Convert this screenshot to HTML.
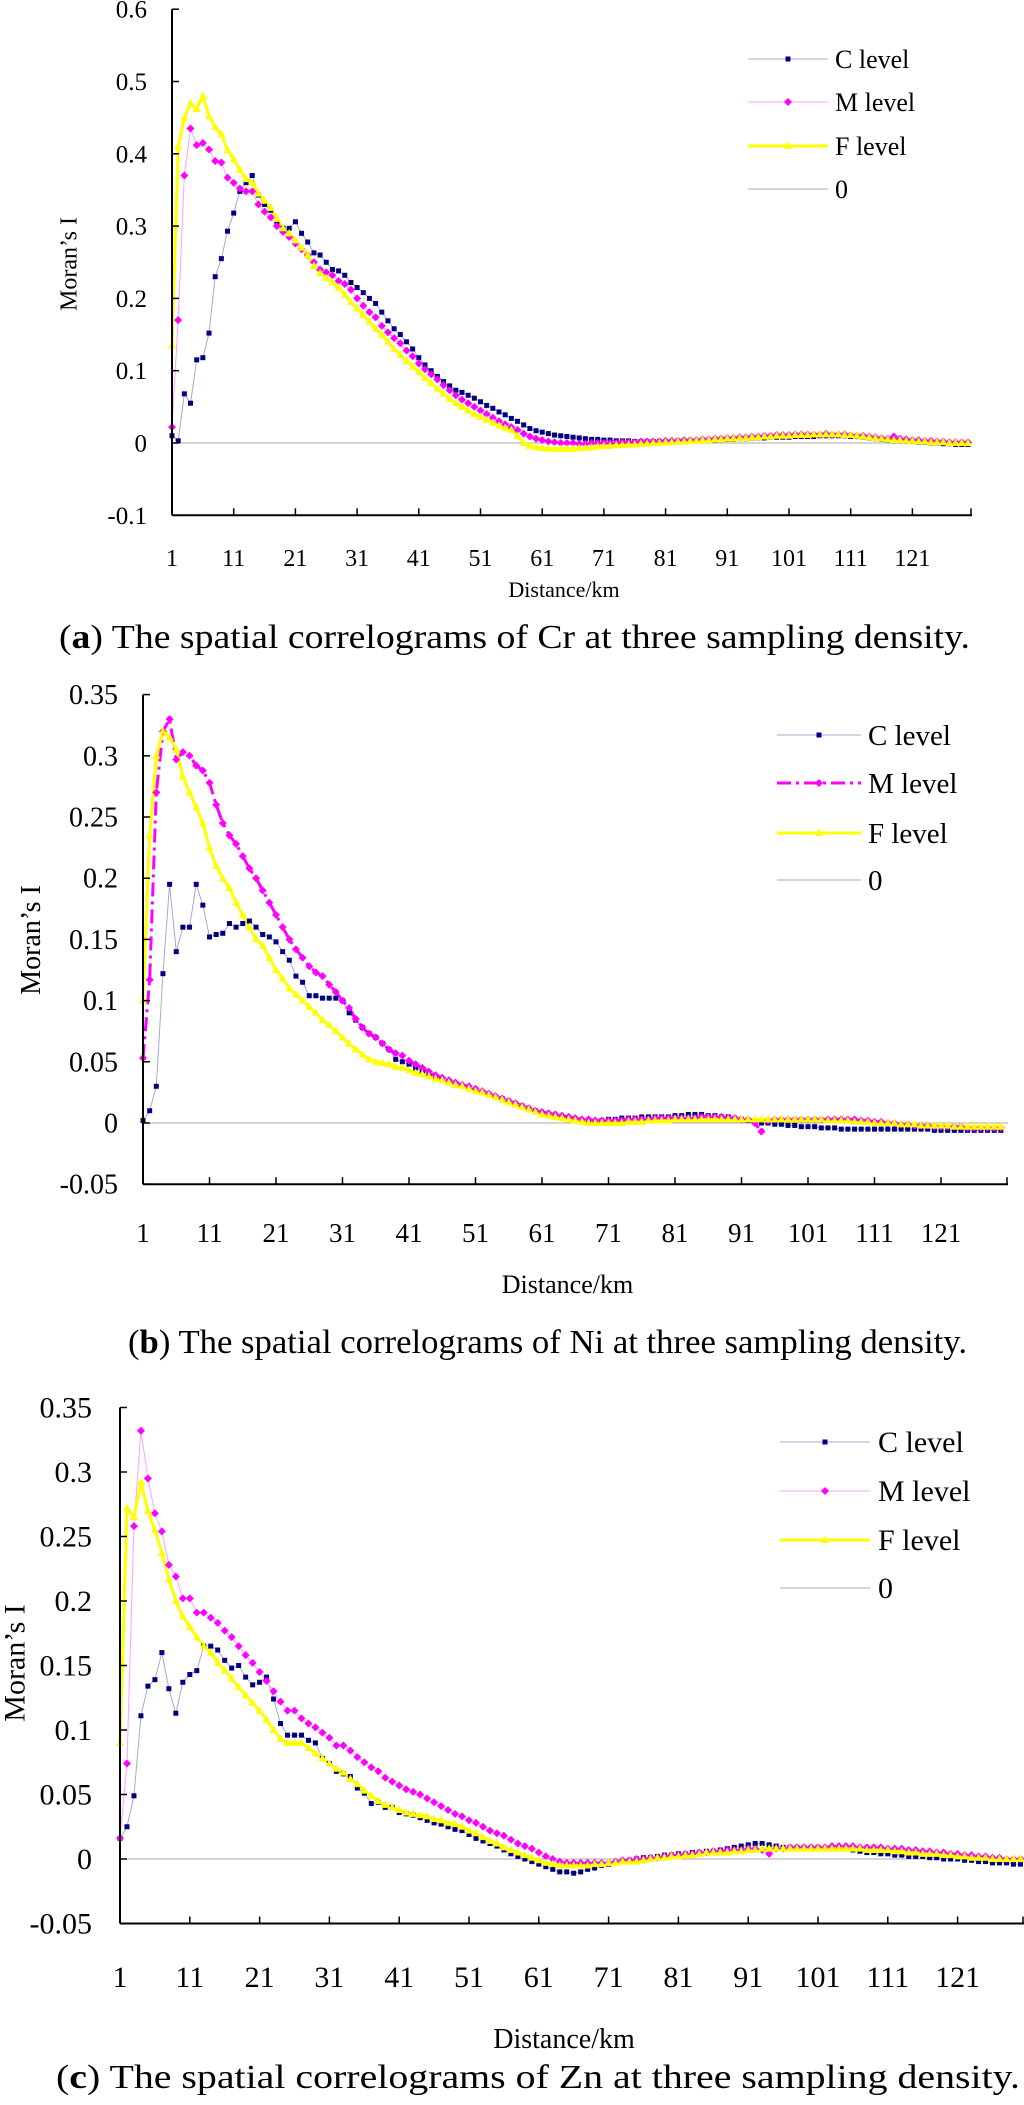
<!DOCTYPE html>
<html><head><meta charset="utf-8"><style>
html,body{margin:0;padding:0;background:#fff;}
svg{display:block;font-family:"Liberation Serif",serif;}
</style></head><body>
<svg id="fig" width="1024" height="2105" viewBox="0 0 1024 2105" xmlns="http://www.w3.org/2000/svg"></svg>
<script>
const km = [];
for (let k = 1; k <= 130; k++) km.push(k);
const xTickLabels = ["1","11","21","31","41","51","61","71","81","91","101","111","121"];
const seriesNames = ["C level","M level","F level","0"];

const crC = [.010,.003,.068,.055,.115,.118,.152,.230,.255,.293,.318,.348,.360,.370,.343,.330,.322,.303,.297,.297,.306,.290,.278,.263,.260,.250,.240,.238,.232,.222,.215,.208,.200,.193,.181,.169,.158,.150,.140,.130,.118,.108,.100,.092,.085,.079,.073,.070,.066,.062,.057,.052,.048,.043,.039,.034,.030,.025,.020,.017,.015,.013,.011,.010,.009,.008,.007,.006,.005,.005,.004,.004,.003,.003,.003,.002,.002,.002,.002,.002,.002,.002,.003,.003,.003,.003,.004,.004,.004,.005,.005,.005,.006,.006,.007,.007,.007,.008,.008,.008,.008,.009,.009,.009,.009,.010,.010,.010,.010,.010,.009,.009,.008,.007,.006,.005,.004,.003,.003,.002,.002,.001,.001,.000,.000,-.001,-.001,-.002,-.002,-.002];
const crM = [.022,.170,.370,.435,.412,.415,.406,.390,.388,.367,.360,.352,.348,.348,.330,.320,.312,.300,.292,.285,.276,.268,.260,.250,.240,.236,.232,.224,.220,.212,.200,.190,.181,.174,.162,.153,.145,.138,.128,.120,.110,.102,.095,.088,.080,.073,.066,.060,.055,.050,.045,.040,.035,.030,.026,.022,.018,.013,.009,.006,.004,.002,.001,.000,.000,.000,-.001,-.001,.000,.000,.000,.000,.000,.001,.001,.001,.002,.002,.002,.002,.003,.003,.003,.004,.004,.004,.005,.005,.006,.006,.007,.007,.008,.008,.009,.009,.010,.010,.011,.011,.011,.012,.012,.012,.012,.012,.013,.012,.012,.012,.011,.010,.010,.009,.008,.007,.006,.009,.006,.005,.004,.004,.003,.003,.002,.002,.001,.001,.001,.001];
const crF = [.135,.410,.450,.470,.462,.480,.452,.437,.427,.405,.393,.378,.365,.360,.345,.335,.325,.310,.297,.290,.280,.270,.260,.245,.235,.228,.222,.215,.205,.195,.186,.177,.168,.158,.150,.140,.130,.122,.114,.106,.098,.090,.083,.075,.068,.061,.055,.050,.045,.040,.036,.032,.028,.024,.021,.018,.010,.000,-.004,-.006,-.007,-.008,-.008,-.008,-.008,-.008,-.007,-.007,-.006,-.005,-.004,-.004,-.003,-.003,-.002,-.002,-.001,-.001,.000,.000,.001,.001,.002,.002,.003,.003,.004,.004,.005,.005,.006,.006,.007,.007,.008,.008,.009,.009,.010,.010,.010,.011,.011,.011,.012,.012,.012,.012,.012,.011,.011,.010,.009,.008,.007,.006,.005,.004,.004,.003,.003,.002,.002,.001,.001,.001,.000,.000,.000,.000];

const niC = [.002,.010,.030,.122,.195,.140,.160,.160,.195,.178,.152,.154,.155,.163,.160,.163,.165,.160,.154,.152,.148,.140,.133,.120,.115,.104,.104,.102,.102,.102,.100,.090,.084,.078,.073,.070,.065,.060,.052,.050,.048,.045,.042,.040,.038,.036,.034,.032,.030,.029,.027,.025,.023,.021,.020,.018,.016,.014,.012,.010,.008,.007,.006,.005,.004,.003,.002,.001,.001,.002,.003,.003,.004,.004,.004,.005,.005,.005,.005,.005,.006,.006,.007,.007,.007,.006,.006,.005,.005,.004,.003,.002,.001,.000,.000,-.001,-.001,-.002,-.002,-.003,-.003,-.003,-.004,-.004,-.004,-.005,-.005,-.005,-.005,-.005,-.005,-.005,-.005,-.005,-.005,-.005,-.005,-.005,-.005,-.006,-.006,-.006,-.006,-.006,-.006,-.006,-.006,-.006,-.006,-.006];
const niM = [.053,.117,.270,.320,.330,.297,.303,.300,.292,.288,.278,.260,.245,.235,.228,.218,.208,.200,.190,.180,.170,.160,.150,.142,.135,.128,.123,.120,.113,.107,.100,.094,.085,.078,.073,.070,.065,.060,.057,.055,.051,.048,.045,.042,.039,.037,.035,.033,.031,.030,.028,.026,.024,.022,.020,.018,.016,.014,.012,.010,.009,.008,.007,.006,.005,.004,.003,.003,.002,.002,.002,.002,.002,.003,.003,.003,.003,.004,.004,.004,.004,.004,.004,.004,.005,.005,.005,.005,.004,.004,.003,.003,.000,-.007,.002,.003,.003,.003,.003,.003,.003,.003,.003,.003,.003,.003,.003,.003,.002,.002,.001,.001,.000,.000,-.001,-.001,-.002,-.002,-.002,-.003,-.003,-.003,-.003,-.003,-.004,-.004,-.004,-.004,-.004,-.004];
const niF = [.100,.235,.300,.320,.315,.305,.283,.270,.258,.245,.225,.210,.200,.192,.180,.170,.160,.150,.145,.135,.125,.118,.110,.105,.100,.095,.090,.084,.080,.075,.070,.065,.060,.056,.052,.050,.049,.048,.046,.045,.043,.041,.040,.038,.036,.035,.033,.031,.030,.028,.026,.025,.023,.021,.019,.017,.015,.013,.011,.009,.007,.006,.005,.004,.003,.002,.001,.000,.000,.000,.000,.000,.000,.001,.001,.001,.002,.002,.002,.002,.003,.003,.003,.003,.003,.003,.003,.003,.003,.003,.003,.003,.003,.003,.003,.003,.003,.003,.003,.003,.003,.003,.003,.002,.002,.002,.002,.001,.001,.001,.000,.000,.000,.000,-.001,-.001,-.001,-.002,-.002,-.002,-.002,-.002,-.003,-.003,-.003,-.003,-.003,-.003,-.003,-.003];

const znC = [.016,.025,.049,.111,.134,.139,.160,.132,.113,.137,.143,.146,.165,.165,.162,.154,.148,.150,.141,.135,.137,.141,.124,.105,.096,.096,.096,.092,.090,.078,.074,.068,.066,.064,.055,.051,.043,.044,.040,.040,.036,.035,.034,.032,.030,.028,.027,.025,.023,.022,.019,.016,.014,.012,.010,.007,.004,.002,.000,-.002,-.004,-.006,-.008,-.010,-.010,-.011,-.010,-.008,-.007,-.005,-.004,-.003,-.002,-.001,.000,.001,.001,.002,.003,.003,.004,.004,.005,.005,.006,.006,.007,.008,.009,.010,.011,.012,.012,.011,.010,.009,.009,.009,.009,.009,.009,.008,.008,.008,.008,.007,.006,.005,.005,.004,.004,.003,.003,.002,.002,.002,.001,.001,.000,.000,.000,-.001,-.001,-.002,-.002,-.003,-.003,-.003,-.004,-.004];
const znM = [.016,.074,.258,.332,.295,.268,.254,.228,.219,.202,.202,.191,.191,.187,.183,.177,.172,.165,.158,.152,.145,.138,.130,.122,.115,.115,.109,.105,.102,.098,.094,.088,.088,.084,.079,.075,.071,.068,.063,.060,.057,.054,.052,.050,.047,.044,.041,.038,.035,.033,.030,.028,.025,.022,.020,.018,.015,.012,.010,.008,.005,.002,.000,-.002,-.003,-.003,-.003,-.003,-.003,-.003,-.003,-.002,-.001,-.001,.000,.000,.001,.001,.002,.003,.003,.004,.004,.005,.005,.006,.006,.007,.007,.007,.008,.008,.007,.004,.008,.008,.009,.009,.009,.009,.009,.009,.010,.010,.010,.010,.009,.009,.009,.009,.008,.008,.008,.007,.007,.006,.006,.005,.005,.004,.004,.003,.003,.002,.002,.001,.001,.000,.000,.000];
const znF = [.090,.272,.265,.292,.270,.255,.237,.217,.200,.188,.180,.172,.165,.160,.152,.146,.140,.133,.127,.121,.115,.108,.100,.093,.090,.090,.090,.086,.082,.078,.074,.070,.067,.062,.058,.053,.049,.045,.042,.040,.038,.036,.035,.034,.033,.031,.030,.028,.027,.025,.022,.020,.017,.014,.012,.009,.007,.005,.003,.001,-.001,-.003,-.004,-.005,-.005,-.005,-.005,-.005,-.004,-.004,-.003,-.003,-.002,-.002,-.002,-.001,.000,.001,.001,.002,.002,.003,.003,.004,.005,.005,.005,.005,.006,.006,.007,.007,.008,.008,.008,.008,.008,.008,.008,.008,.008,.008,.008,.008,.008,.008,.008,.007,.007,.007,.007,.006,.006,.005,.005,.004,.004,.004,.003,.003,.002,.002,.001,.001,.001,.000,.000,.000,.000,.000];

const ticksA = [-0.1,0,0.1,0.2,0.3,0.4,0.5,0.6];
const ticksB = [-0.05,0,0.05,0.1,0.15,0.2,0.25,0.3,0.35];
const ticksC = [-0.05,0,0.05,0.1,0.15,0.2,0.25,0.3,0.35];

const NS = "http://www.w3.org/2000/svg";
const svg = document.getElementById("fig");
function mk(tag, attrs, parent) {
  const e = document.createElementNS(NS, tag);
  for (const k in attrs) e.setAttribute(k, attrs[k]);
  (parent || svg).appendChild(e);
  return e;
}
function fmt(v){ return String(v); }

const panels = [
  {id:"a", C:crC, M:crM, F:crF, ticks:ticksA, left:172, right:972, pxPerKm:6.17, y0:443, ppu:723, ymin:-0.1, ymax:0.6,
   yLabRight:147, yFont:25, xFont:24, xLabY:566, distY:597, distFont:22, titleX:68, titleY:264, titleFont:24,
   legX1:748, legX2:828, legTX:835, legY:[59,102,146,189], legFont:26, mDash:false,
   cap:"a", capRest:" The spatial correlograms of Cr at three sampling density.", capX1:59, capX2:970, capY:648},
  {id:"b", C:niC, M:niM, F:niF, ticks:ticksB, left:143, right:1008, pxPerKm:6.65, y0:1123, ppu:1224, ymin:-0.05, ymax:0.35,
   yLabRight:118, yFont:28, xFont:27, xLabY:1242, distY:1293, distFont:26, titleX:30, titleY:940, titleFont:28,
   legX1:777, legX2:861, legTX:868, legY:[735,783,833,880], legFont:29, mDash:true,
   cap:"b", capRest:" The spatial correlograms of Ni at three sampling density.", capX1:128, capX2:967, capY:1353},
  {id:"c", C:znC, M:znM, F:znF, ticks:ticksC, left:120, right:1024, pxPerKm:6.98, y0:1859, ppu:1290, ymin:-0.05, ymax:0.35,
   yLabRight:92, yFont:30, xFont:30, xLabY:1987, distY:2048, distFont:28, titleX:14, titleY:1663, titleFont:30,
   legX1:780, legX2:870, legTX:878, legY:[1442,1491,1540,1588], legFont:30, mDash:false,
   cap:"c", capRest:" The spatial correlograms of Zn at three sampling density.", capX1:56, capX2:1020, capY:2088}
];

function markC(g, x, y){ const r = mk("rect",{x:x-2.5,y:y-2.5,width:5,height:5,fill:"#000080"},g);
  
   }
function markM(g, x, y){ const r = mk("polygon",{points:`${x},${y-4} ${x+4},${y} ${x},${y+4} ${x-4},${y}`,fill:"#ff00ff"},g);
  
   }
function markF(g, x, y){ const r = mk("polygon",{points:`${x},${y-4.5} ${x+4},${y+3} ${x-4},${y+3}`,fill:"#ffff00"},g);
  
   }

panels.forEach(p => {
  const X = k => p.left + (k - 1) * p.pxPerKm;
  const Y = v => p.y0 - v * p.ppu;
  const g = mk("g", {});
  
  
  const yTop = Y(p.ymax), yBot = Y(p.ymin);

  const z = mk("line",{x1:p.left,x2:p.right,y1:Y(0),y2:Y(0),stroke:"#aaaaaa","stroke-width":1},g);
  
  

  const pc = mk("polyline",{points:km.map((k,i)=>X(k)+","+Y(p.C[i])).join(" "),fill:"none",stroke:"#a8a8d0","stroke-width":1},g);
  
  
  const pmAttrs = p.mDash ? {stroke:"#ff00ff","stroke-width":3,"stroke-dasharray":"14,5,3,5"} : {stroke:"#ffa0ff","stroke-width":1};
  pmAttrs.points = km.map((k,i)=>X(k)+","+Y(p.M[i])).join(" "); pmAttrs.fill = "none";
  const pm = mk("polyline",pmAttrs,g);
  
  
  const pf = mk("polyline",{points:km.map((k,i)=>X(k)+","+Y(p.F[i])).join(" "),fill:"none",stroke:"#ffff00","stroke-width":3},g);
  
  
  km.forEach((k,i)=>markC(g, X(k), Y(p.C[i])));
  km.forEach((k,i)=>markM(g, X(k), Y(p.M[i])));
  km.forEach((k,i)=>markF(g, X(k), Y(p.F[i])));

  const ya = mk("line",{x1:p.left,x2:p.left,y1:yTop,y2:yBot,stroke:"#000","stroke-width":2},g);
  
  
  const xa = mk("line",{x1:p.left,x2:p.right,y1:yBot,y2:yBot,stroke:"#000","stroke-width":2},g);
  
  

  p.ticks.forEach(t => {
    const y = Y(t);
    mk("line",{x1:p.left,x2:p.left+7,y1:y,y2:y,stroke:"#000","stroke-width":1.5},g);
    const tx = mk("text",{x:p.yLabRight,y:y+p.yFont*0.34,"text-anchor":"end","font-size":p.yFont},g);
    tx.textContent = fmt(t);
    
    
  });
  xTickLabels.forEach(lbl => {
    const k = +lbl, x = X(k);
    if (k > 1) mk("line",{x1:x,x2:x,y1:yBot,y2:yBot-7,stroke:"#000","stroke-width":1.5},g);
    const tx = mk("text",{x:x,y:p.xLabY,"text-anchor":"middle","font-size":p.xFont},g);
    tx.textContent = lbl;
    
    
  });
  mk("line",{x1:p.right-1,x2:p.right-1,y1:yBot,y2:yBot-7,stroke:"#000","stroke-width":1.5},g);

  const dist = mk("text",{x:(p.left+p.right)/2 - 8,y:p.distY,"text-anchor":"middle","font-size":p.distFont},g);
  dist.textContent = "Distance/km";
  
  

  const yt = mk("text",{x:0,y:0,"text-anchor":"middle","font-size":p.titleFont,transform:`translate(${p.titleX + p.titleFont*0.35},${p.titleY}) rotate(-90)`},g);
  yt.textContent = "Moran\u2019s I";
  
  

  seriesNames.forEach((nm, i) => {
    const ly = p.legY[i];
    const lg = mk("g",{},g);
    
    
    const mx = (p.legX1+p.legX2)/2;
    if (i===0) { mk("line",{x1:p.legX1,x2:p.legX2,y1:ly,y2:ly,stroke:"#a8a8d0","stroke-width":1},lg); markC(lg,mx,ly); }
    if (i===1) { const a = p.mDash ? {stroke:"#ff00ff","stroke-width":3,"stroke-dasharray":"14,5,3,5"} : {stroke:"#ffa0ff","stroke-width":1};
      a.x1=p.legX1;a.x2=p.legX2;a.y1=ly;a.y2=ly; mk("line",a,lg); markM(lg,mx,ly); }
    if (i===2) { mk("line",{x1:p.legX1,x2:p.legX2,y1:ly,y2:ly,stroke:"#ffff00","stroke-width":3},lg); markF(lg,mx,ly); }
    if (i===3) { mk("line",{x1:p.legX1,x2:p.legX2,y1:ly,y2:ly,stroke:"#aaaaaa","stroke-width":1},lg); }
    const t = mk("text",{x:p.legTX,y:ly+p.legFont*0.34,"font-size":p.legFont},lg);
    t.textContent = nm;
  });

  const cap = mk("text",{x:p.capX1,y:p.capY,"font-size":34,textLength:p.capX2-p.capX1,lengthAdjust:"spacingAndGlyphs"},g);
  
  
  const t1 = mk("tspan",{},cap); t1.textContent = "(";
  const t2 = mk("tspan",{"font-weight":"bold"},cap); t2.textContent = p.cap;
  const t3 = mk("tspan",{},cap); t3.textContent = ")" + p.capRest;
});
</script>
</body></html>
